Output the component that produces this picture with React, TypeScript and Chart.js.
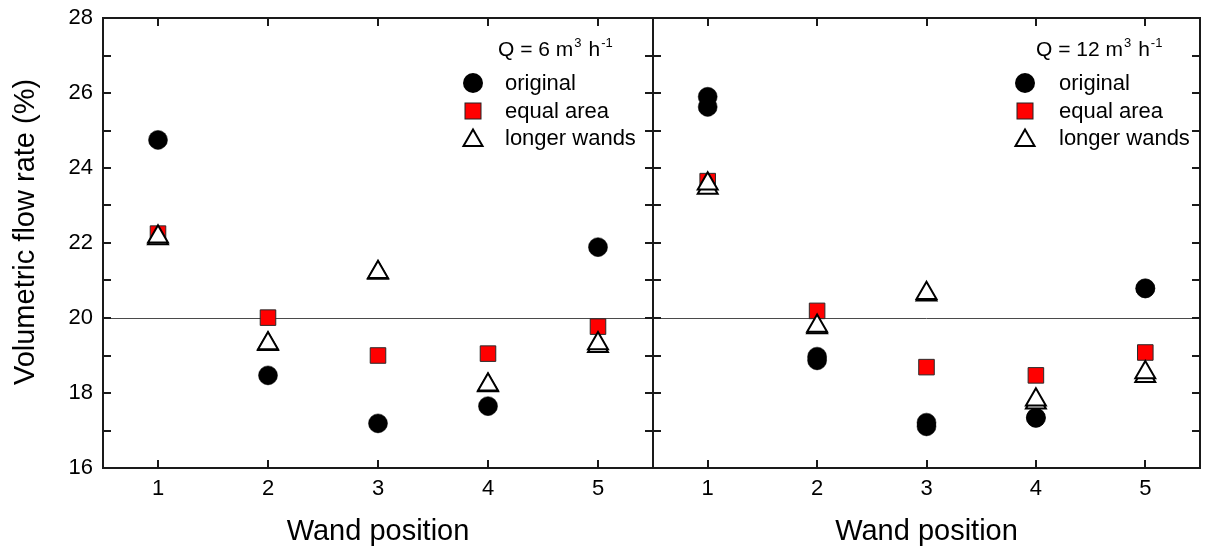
import React, { useEffect, useRef } from 'react';
import { Chart, registerables } from 'chart.js';

Chart.register(...registerables);

const FONT = '"Liberation Sans", Arial, Helvetica, sans-serif';

// ---- data ----
const positions = [1, 2, 3, 4, 5];
const xTickValues = [1, 2, 3, 4, 5];
const legendLabels = ['original', 'equal area', 'longer wands'];
const yAxisTitle = 'Volumetric flow rate (%)';
const xAxisTitle = 'Wand position';

// Q = 6 m3 h-1
const original6 = [24.75, 18.47, 17.19, 17.65, 21.89];
const equalArea6 = [22.25, 20.01, 19.0, 19.05, 19.77];
const longerWands6a = [22.17, 19.32, 21.22, 18.22, 19.32];
const longerWands6b = [22.12, 19.3, 21.2, 18.2, 19.25];

// Q = 12 m3 h-1
const original12a = [25.9, 18.97, 17.21, 17.34, 20.79];
const original12b = [25.63, 18.87, 17.11, 17.34, 20.79];
const equalArea12 = [23.65, 20.19, 18.69, 18.47, 19.08];
const longerWands12a = [23.58, 19.79, 20.66, 17.82, 18.55];
const longerWands12b = [23.47, 19.75, 20.62, 17.74, 18.45];

const referenceLine = 20;
const yMin = 16;
const yMax = 28;

type PanelCfg = {
  q: string;
  originals: number[][];
  squares: number[][];
  triangles: number[][];
  showY: boolean;
  padLeft: number;
  padRight: number;
  markerDx: number;
  textDx: number;
  qDx: number;
};

const toPts = (arr: number[]) => positions.map((x, i) => ({ x, y: arr[i] }));

function drawTriangle(ctx: CanvasRenderingContext2D, x: number, y: number, r: number) {
  ctx.beginPath();
  ctx.moveTo(x, y - r);
  ctx.lineTo(x + r * Math.sqrt(3) / 2, y + r / 2);
  ctx.lineTo(x - r * Math.sqrt(3) / 2, y + r / 2);
  ctx.closePath();
}

function panelPlugin(cfg: PanelCfg) {
  return {
    id: 'panelDecor' + cfg.q,
    beforeDatasetsDraw(chart: any) {
      const { ctx, chartArea } = chart;
      const y = chart.scales.y.getPixelForValue(referenceLine);
      ctx.save();
      ctx.strokeStyle = '#4a4a4a';
      ctx.lineWidth = 1;
      ctx.beginPath();
      ctx.moveTo(chartArea.left, Math.round(y) + 0.5);
      ctx.lineTo(chartArea.right, Math.round(y) + 0.5);
      ctx.stroke();
      ctx.restore();
    },
    afterDraw(chart: any) {
      const { ctx, chartArea } = chart;
      const { left, right, top, bottom } = chartArea;
      const xs = chart.scales.x;
      const ys = chart.scales.y;
      ctx.save();
      ctx.strokeStyle = '#1a1a1a';
      ctx.lineWidth = 2;
      // frame
      ctx.strokeRect(left, top, right - left, bottom - top);
      // ticks
      const tl = 8;
      ctx.beginPath();
      xTickValues.forEach((v) => {
        const px = Math.round(xs.getPixelForValue(v));
        ctx.moveTo(px, bottom);
        ctx.lineTo(px, bottom - tl);
        ctx.moveTo(px, top);
        ctx.lineTo(px, top + tl);
      });
      for (let v = yMin + 1; v < yMax; v += 1) {
        const py = Math.round(ys.getPixelForValue(v));
        ctx.moveTo(left, py);
        ctx.lineTo(left + tl, py);
        ctx.moveTo(right, py);
        ctx.lineTo(right - tl, py);
      }
      ctx.stroke();

      // y-axis title (left panel only)
      if (cfg.showY) {
        ctx.save();
        ctx.translate(26, 232);
        ctx.rotate(-Math.PI / 2);
        ctx.font = `29px ${FONT}`;
        ctx.fillStyle = '#000';
        ctx.textAlign = 'center';
        ctx.textBaseline = 'middle';
        ctx.fillText(yAxisTitle, 0, 0);
        ctx.restore();
      }

      // legend
      const mx = right + cfg.markerDx;
      const tx = right + cfg.textDx;
      const qx = right + cfg.qDx;
      ctx.fillStyle = '#000';
      ctx.textBaseline = 'alphabetic';
      ctx.textAlign = 'left';
      ctx.font = `21px ${FONT}`;
      let cx = qx;
      const qMain = `Q = ${cfg.q} m`;
      ctx.fillText(qMain, cx, 56);
      cx += ctx.measureText(qMain).width + 1;
      ctx.font = `13px ${FONT}`;
      ctx.fillText('3', cx, 47);
      cx += ctx.measureText('3').width + 7;
      ctx.font = `21px ${FONT}`;
      ctx.fillText('h', cx, 56);
      cx += ctx.measureText('h').width + 1;
      ctx.font = `13px ${FONT}`;
      ctx.fillText('-1', cx, 47);

      ctx.font = `22px ${FONT}`;
      const baselines = [90, 117.5, 145];
      const centers = [83, 111, 138.5];
      legendLabels.forEach((lab, i) => {
        ctx.fillStyle = '#000';
        ctx.fillText(lab, tx, baselines[i]);
      });
      // circle
      ctx.beginPath();
      ctx.arc(mx, centers[0], 10, 0, Math.PI * 2);
      ctx.fillStyle = '#000';
      ctx.fill();
      // square
      ctx.fillStyle = '#ff0000';
      ctx.fillRect(mx - 8, centers[1] - 8, 16, 16);
      ctx.lineWidth = 1;
      ctx.strokeStyle = '#222';
      ctx.strokeRect(mx - 8, centers[1] - 8, 16, 16);
      // triangle
      drawTriangle(ctx, mx, centers[2] + 2, 11);
      ctx.fillStyle = '#fff';
      ctx.fill();
      ctx.lineWidth = 2;
      ctx.strokeStyle = '#000';
      ctx.stroke();
      ctx.restore();
    },
  };
}

function buildConfig(cfg: PanelCfg): any {
  const triangleSets = cfg.triangles.map((arr) => ({
    label: legendLabels[2],
    data: toPts(arr),
    pointStyle: 'triangle',
    pointRadius: 11.5,
    pointBackgroundColor: '#ffffff',
    pointBorderColor: '#000000',
    pointBorderWidth: 2,
  }));
  const squareSets = cfg.squares.map((arr) => ({
    label: legendLabels[1],
    data: toPts(arr),
    pointStyle: 'rect',
    pointRadius: 11,
    pointBackgroundColor: '#ff0000',
    pointBorderColor: '#2a2a2a',
    pointBorderWidth: 1,
  }));
  const circleSets = cfg.originals.map((arr) => ({
    label: legendLabels[0],
    data: toPts(arr),
    pointStyle: 'circle',
    pointRadius: 9.5,
    pointBackgroundColor: '#000000',
    pointBorderColor: '#000000',
    pointBorderWidth: 0.5,
  }));
  return {
    type: 'scatter',
    data: { datasets: [...triangleSets, ...squareSets, ...circleSets] },
    options: {
      animation: false,
      responsive: false,
      events: [],
      layout: { padding: { left: cfg.padLeft, right: cfg.padRight, top: 18, bottom: 0 } },
      plugins: { legend: { display: false }, tooltip: { enabled: false } },
      scales: {
        x: {
          type: 'linear',
          min: 0.5,
          max: 5.5,
          afterBuildTicks: (ax: any) => {
            ax.ticks = xTickValues.map((v) => ({ value: v }));
          },
          afterFit: (s: any) => {
            s.height = 81;
            s.paddingLeft = 0;
            s.paddingRight = 0;
          },
          grid: { display: false, drawTicks: false },
          border: { display: false },
          ticks: { font: { family: FONT, size: 22 }, color: '#000', padding: 8 },
          title: {
            display: true,
            text: xAxisTitle,
            font: { family: FONT, size: 29 },
            color: '#000',
            padding: { top: 0, bottom: 0 },
          },
        },
        y: {
          type: 'linear',
          min: yMin,
          max: yMax,
          display: cfg.showY,
          afterFit: (s: any) => {
            s.width = cfg.showY ? 103 : 0;
            s.paddingTop = 0;
            s.paddingBottom = 0;
          },
          grid: { display: false, drawTicks: false },
          border: { display: false },
          ticks: { stepSize: 2, font: { family: FONT, size: 22 }, color: '#000', padding: 10 },
          title: { display: false },
        },
      },
    },
    plugins: [panelPlugin(cfg)],
  };
}

const leftPanel: PanelCfg = {
  q: '6',
  originals: [original6],
  squares: [equalArea6],
  triangles: [longerWands6a, longerWands6b],
  showY: true,
  padLeft: 0,
  padRight: 1205 - 653,
  markerDx: -180,
  textDx: -148,
  qDx: -155,
};

// right canvas is drawn 9px wider than the page (clipped), which puts its plot edge at x=1200
const RIGHT_CANVAS_W = 1214;

const rightPanel: PanelCfg = {
  q: '12',
  originals: [original12a, original12b],
  squares: [equalArea12],
  triangles: [longerWands12a, longerWands12b],
  showY: false,
  padLeft: 653,
  padRight: 14,
  markerDx: -175,
  textDx: -141,
  qDx: -164,
};

export default function App() {
  const leftRef = useRef<HTMLCanvasElement>(null);
  const rightRef = useRef<HTMLCanvasElement>(null);
  useEffect(() => {
    const c1 = new Chart(leftRef.current as HTMLCanvasElement, buildConfig(leftPanel));
    const c2 = new Chart(rightRef.current as HTMLCanvasElement, buildConfig(rightPanel));
    return () => {
      c1.destroy();
      c2.destroy();
    };
  }, []);
  return (
    <div
      style={{
        position: 'fixed',
        left: 0,
        top: 0,
        width: 1205,
        height: 549,
        background: '#fff',
        overflow: 'hidden',
      }}
    >
      <canvas
        ref={leftRef}
        width={1205}
        height={549}
        style={{ position: 'absolute', left: 0, top: 0, width: 1205, height: 549 }}
      />
      <canvas
        ref={rightRef}
        width={RIGHT_CANVAS_W}
        height={549}
        style={{ position: 'absolute', left: 0, top: 0, width: RIGHT_CANVAS_W, height: 549 }}
      />
    </div>
  );
}
